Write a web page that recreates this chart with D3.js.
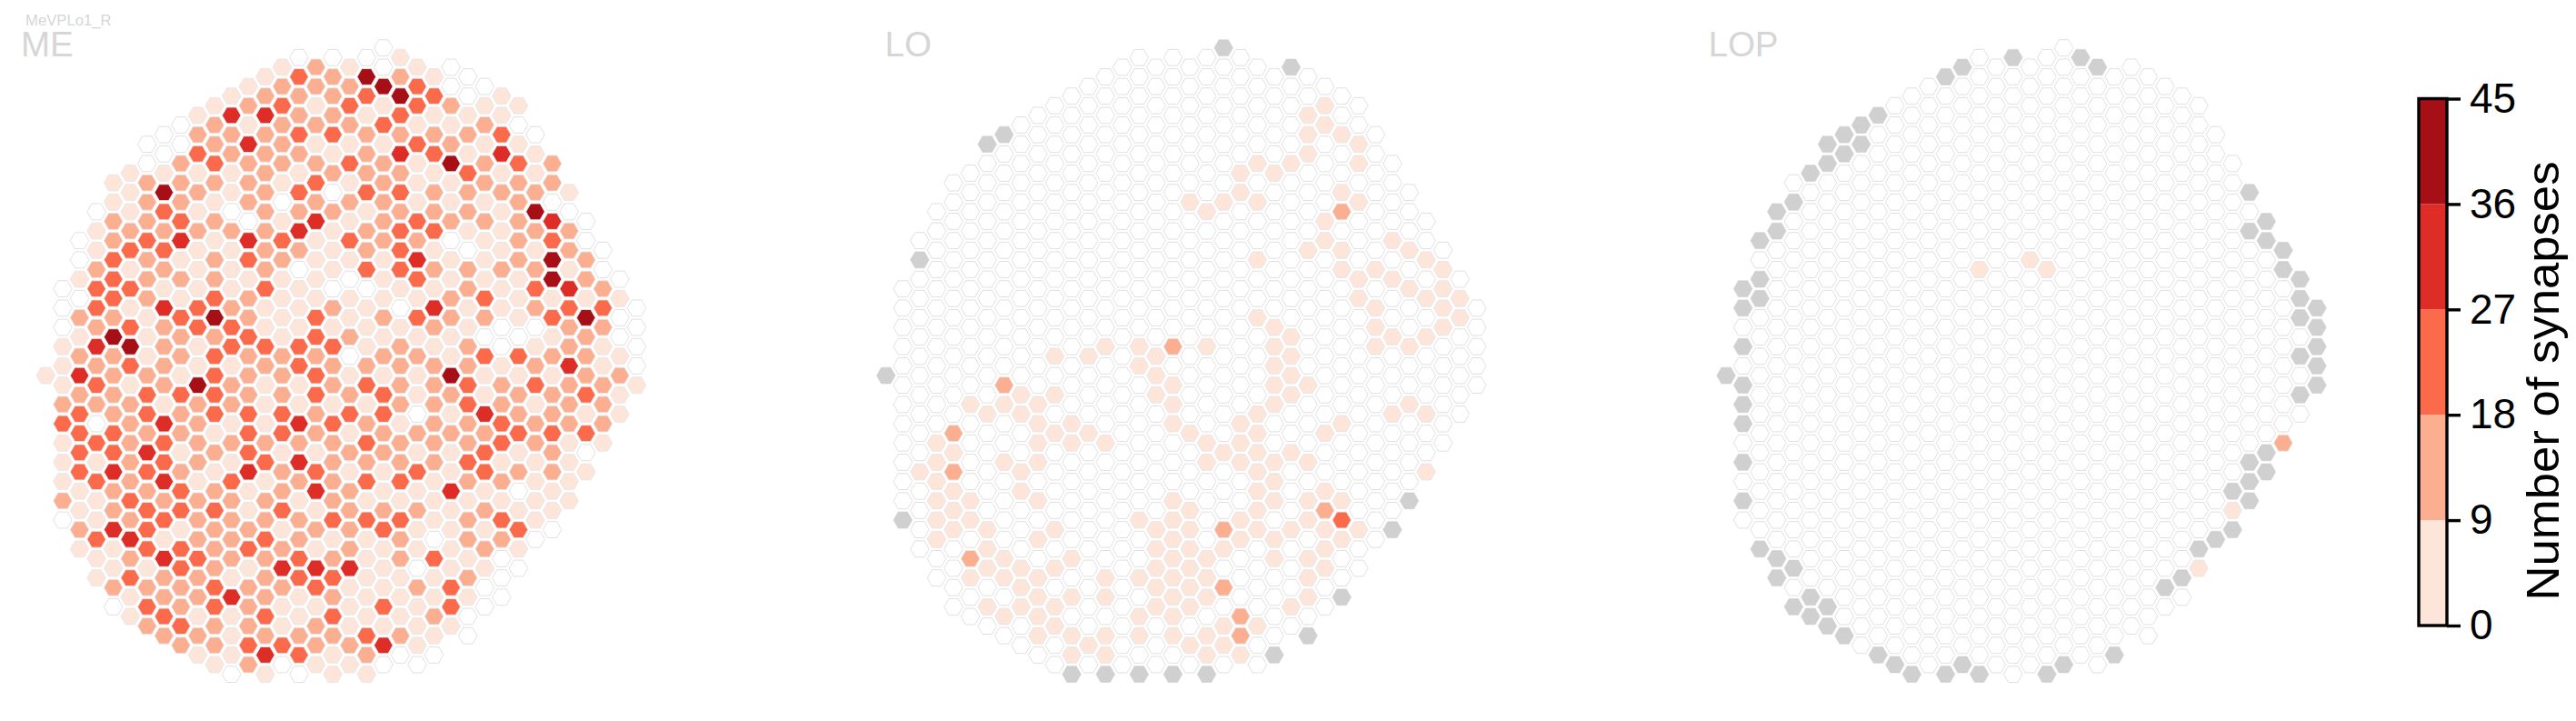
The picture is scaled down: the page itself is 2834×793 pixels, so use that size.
<!DOCTYPE html>
<html><head><meta charset="utf-8">
<script src="https://cdn.jsdelivr.net/npm/d3@7/dist/d3.min.js"></script>
<style>html,body{margin:0;padding:0;background:#fff;overflow:hidden}svg{display:block}text{font-family:"Liberation Sans",Arial,sans-serif}</style>
</head><body>
<script>
// ---- Hex lattice: each column's first and last row index (rows step by two)
const columnFirstRow=[34,25,20,17,14,13,10,9,8,7,6,5,4,3,2,1,2,1,2,1,0,1,2,3,2,3,4,5,6,9,12,15,18,21,24,27];
const columnLastRow=[34,49,52,55,58,59,60,61,62,63,64,65,64,65,64,65,64,65,64,65,64,63,64,63,60,61,58,57,54,51,50,47,44,41,38,35];

// ---- Synapse bin of every ME column, top to bottom (0 none, 1: 0-9, 2: 9-18, 3: 18-27, 4: 27-36, 5: 36-45)
const meColumns=["1","0001112311120","00102124233331121","01123324232031311311","11223332522223342241120",
"111231313531222223242311","00222322211123324323331232","001532321422221433423142232","0022234121322132212331332232",
"12312121113311522221222322121","122321212235233331212322233221","1422110211123312212132222141110",
"1214222043122322233341123122232","12422222222311321112312232223241","12322210132111122233122312421130",
"032232132420111331142421223311230","22121232411113323322134121431221","022231202111021322132222312323211",
"12321312131011201231212222411121","053122231223011123123231311111321","005131222221112121332211231113140",
"12532423233310122221223132211120","13313111324313121102131211021110","1312312231214212222221110311210",
"002125112011221152121141111331","001213221022112233223212212100","0121221211132031142331212100",
"113412111211001223312132000","1013222221110312231201310","0112521232012312211110","22043551312122322110",
"10221432242221111","00221522231301","00232112221","01001211","00001"];

// ---- LO: [column, rows] per bin, every other cell is 0
const loBin1=[[2,[44]],[3,[41,43,45,47,49,51]],[4,[42,46,48,50]],[5,[37,47,49,55]],[6,[38,50,52,54,58]],[7,[37,43,53,55,59]],
[8,[36,38,44,46,54,56,58]],[9,[37,39,41,43,47,51,55,57,59,61]],[10,[32,36,40,50,54,58,60]],[11,[39,41,53,57,61,63]],[12,[32,40,62]],
[13,[31,41,55,57,61,63]],[15,[31,33,49,55,59,61]],[16,[32,34,36,50,52,54,56,58]],[17,[35,37,39,47,49,51,53,55,57,59,61]],
[18,[16,40,48,50,52,54,56,58,62]],[19,[17,31,41,43,53,55,57,61,63]],[20,[16,42,52,60,62]],[21,[13,15,39,41,43,49,51,63]],
[22,[12,16,22,28,38,40,42,44,46,48,50,60]],[23,[13,29,31,33,35,37,43,45,47,51,53]],[24,[12,30,32,34,36,42,50,58]],
[25,[7,9,11,21,35,43,47,49,53,55,57]],[26,[6,8,18,20,40,46,50,52,54]],[27,[9,15,21,23,39,47,51]],[28,[10,12,16,24,26,50]],
[29,[23,27,29,31]],[30,[20,24,30,38]],[31,[21,25,31,37]],[32,[22,26,30,38,44]],[33,[23,25,27,29]],[34,[26,28]]];
const loBin2=[[4,[40,44]],[5,[53]],[7,[35]],[17,[31]],[20,[50,56]],[21,[59,61]],[26,[48]],[27,[17]]];
const loBin3=[[27,[49]]];
const loMissing=[[0,[34]],[1,[49]],[2,[22]],[6,[10]],[7,[9]],[11,[65]],[13,[65]],[15,[65]],[17,[65]],[19,[65]],[20,[0]],[23,[63]],[24,[2]],[25,[61]],[27,[57]],[30,[50]],[31,[47]]];

// ---- LOP
const lopBin1=[[15,[23]],[18,[22]],[19,[23]],[28,[54]],[30,[48]]];
const lopBin2=[[33,[41]]];
const lopBin3=[];
const lopMissing=[[0,[34]],[1,[25,27,31,35,37,39,43,47]],[2,[20,24,26,52]],[3,[17,19,53,55]],[4,[16,54,58]],[5,[13,57,59]],[6,[10,12,58,60]],
[7,[9,11,61]],[8,[8,10]],[9,[7,63]],[10,[64]],[11,[65]],[13,[3,65]],[14,[2,64]],[15,[65]],[17,[1]],[19,[65]],[20,[64]],[21,[1]],[22,[2]],[23,[63]],
[26,[56]],[27,[55]],[28,[52]],[29,[51]],[30,[46,50]],[31,[15,19,43,45,47]],[32,[18,20,42,44]],[33,[21,23]],[34,[24,26,28,32,36]],[35,[27,29,31,33,35]]];

const panelNames=["ME","LO","LOP"];
const cellType="MeVPLo1_R";
const binCentres=[0,4.5,13.5,22.5,31.5,40.5];
const colorTicks=[0,9,18,27,36,45];
const binColors=["#fee5d9","#fcae91","#fb6a4a","#de2d26","#a50f15"];
const legendTitle="Number of synapses";

// ---- Layout
const W=2834,H=793;
const panelLeft=[50.4,974.7,1899], panelWidth=650, gridTop=52.7, gridBottom=741.6;
const hexR=10.3, titleColor="#d6d6d6", missingColor="#d0d0d0", edgeColor="#dcdcdc";

const svg=d3.select("body").append("svg").attr("width",W).attr("height",H);
const color=d3.scaleThreshold().domain(colorTicks.slice(1,-1)).range(binColors);
const rowY=d3.scaleLinear().domain([0,65]).range([gridTop,gridBottom]);
const hexPath=d3.line()(d3.range(6).map(a=>[hexR*Math.cos(a*Math.PI/3),hexR*Math.sin(a*Math.PI/3)]))+"Z";

function buildPanel(i){
  const cells=new Map();
  columnFirstRow.forEach((first,c)=>{
    for(let r=first;r<=columnLastRow[c];r+=2) cells.set(c+":"+r,{c,r,v:0,missing:false});
  });
  if(i===0){
    meColumns.forEach((s,c)=>{[...s].forEach((ch,k)=>{
      cells.get(c+":"+(columnFirstRow[c]+2*k)).v=binCentres[+ch];
    });});
  }else{
    const sets=i===1?[loBin1,loBin2,loBin3]:[lopBin1,lopBin2,lopBin3];
    sets.forEach((set,b)=>set.forEach(([c,rows])=>rows.forEach(r=>{cells.get(c+":"+r).v=binCentres[b+1];})));
    (i===1?loMissing:lopMissing).forEach(([c,rows])=>rows.forEach(r=>{cells.get(c+":"+r).missing=true;}));
  }
  return [...cells.values()];
}

panelNames.forEach((name,i)=>{
  const x=d3.scaleLinear().domain([0,35]).range([panelLeft[i],panelLeft[i]+panelWidth]);
  svg.append("g").selectAll("path").data(buildPanel(i)).join("path")
    .attr("d",hexPath)
    .attr("transform",d=>`translate(${x(d.c)},${rowY(d.r)})`)
    .attr("fill",d=>d.missing?missingColor:(d.v===0?"#ffffff":color(d.v)))
    .attr("stroke",d=>d.missing?missingColor:(d.v===0?edgeColor:"#e6e6e6"))
    .attr("stroke-width",d=>d.missing?0.6:0.9);
});

// Titles
const titleX=[23,973.5,1879.5];
panelNames.forEach((name,i)=>{
  svg.append("text").attr("x",titleX[i]).attr("y",61.5).attr("font-size",38.5).attr("fill",titleColor).text(name);
});
svg.append("text").attr("x",28).attr("y",28).attr("font-size",16.7).attr("fill",titleColor).text(cellType);

// Colour bar
const barLeft=2661,barRight=2692,barTop=108.5,barBottom=688;
const barY=d3.scaleLinear().domain([0,45]).range([barBottom,barTop]);
const bar=svg.append("g");
bar.selectAll("rect").data(binColors).join("rect")
  .attr("x",barLeft).attr("width",barRight-barLeft)
  .attr("y",(d,i)=>barY(colorTicks[i+1]))
  .attr("height",(d,i)=>barY(colorTicks[i])-barY(colorTicks[i+1]))
  .attr("fill",d=>d);
bar.append("rect").attr("x",barLeft).attr("y",barTop).attr("width",barRight-barLeft).attr("height",barBottom-barTop)
  .attr("fill","none").attr("stroke","#000").attr("stroke-width",3.4);
const axis=svg.append("g").attr("transform",`translate(${barRight},0)`)
  .call(d3.axisRight(barY).tickValues(colorTicks).tickSize(15).tickPadding(10).tickFormat(d3.format("d")));
axis.select(".domain").remove();
axis.selectAll("line").attr("stroke","#000").attr("stroke-width",3.4);
axis.selectAll("text").attr("font-size",46).attr("fill","#000").attr("font-family",'"Liberation Sans",Arial,sans-serif');
svg.append("text").attr("transform","translate(2815,419) rotate(-90)").attr("text-anchor","middle")
  .attr("font-size",50).attr("textLength",483).attr("lengthAdjust","spacingAndGlyphs").attr("fill","#000").text(legendTitle);
</script>
</body></html>
